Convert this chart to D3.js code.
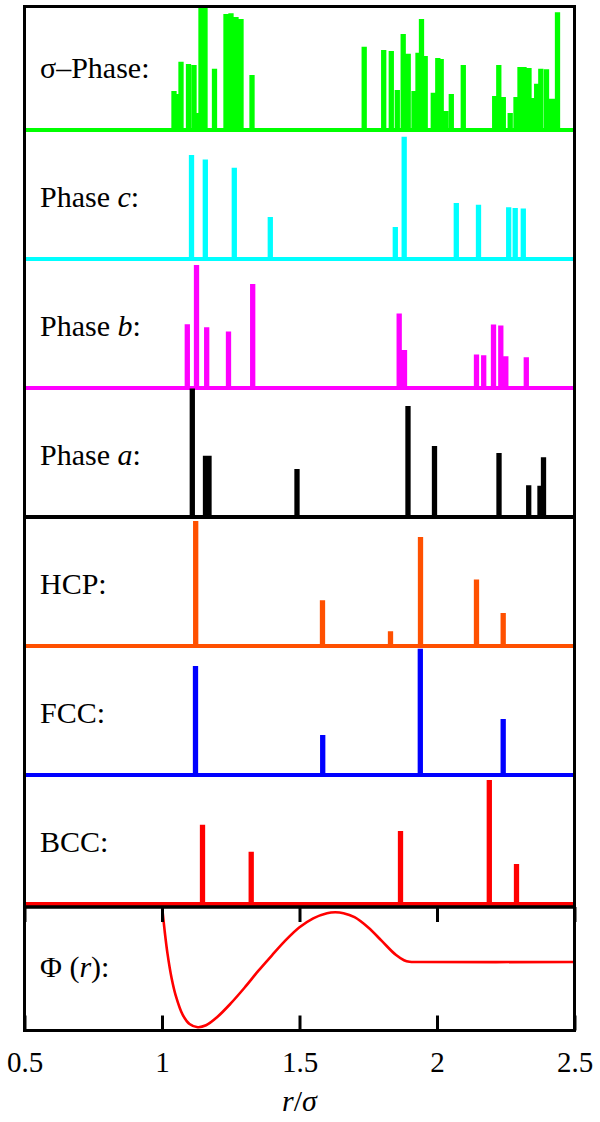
<!DOCTYPE html>
<html>
<head>
<meta charset="utf-8">
<script src="https://cdn.jsdelivr.net/npm/d3@7"></script>
<style>
  body { margin: 0; background: #fff; }
  text { font-family: "Liberation Serif", "DejaVu Serif", serif; fill: #000; }
</style>
</head>
<body>
<svg id="chart" width="600" height="1122"></svg>
<script>
// r/σ tick values shared by every panel
const rTicks = [0.5, 1, 1.5, 2, 2.5];

// σ-phase pair distribution (peak position, relative intensity)
const sigmaR = [1.0436, 1.0545, 1.0691, 1.0964, 1.1164, 1.1273, 1.1418, 1.1564, 1.1909,
  1.2327, 1.2509, 1.2691, 1.2873, 1.3273,
  1.7353, 1.8062, 1.8338, 1.8556, 1.8771, 1.8953, 1.9164, 1.9309, 1.9436, 1.9571,
  1.9865, 2.0029, 2.0153, 2.032, 2.052, 2.0956,
  2.2098, 2.2247, 2.2411, 2.2662, 2.2873, 2.3018, 2.3164, 2.3345, 2.3498, 2.3625,
  2.3775, 2.3982, 2.4091, 2.4255, 2.4382];
const sigmaI = [30, 27.6, 53.7, 52, 51.2, 12.2, 104, 104, 48,
  92.7, 93.2, 90.2, 88.6, 43.1,
  65.9, 63.4, 62.6, 30.9, 76.4, 60.2, 30.1, 61, 88.6, 58.5,
  28.5, 56.9, 56.1, 13.8, 27.6, 51.2,
  26, 51.2, 25.2, 12.2, 25.2, 49.6, 49.6, 48.8, 24.4, 35.8,
  48, 47.7, 23.6, 23.8, 94];

// Phase c
const phaseCR = [1.1073, 1.1575, 1.2629, 1.3938, 1.8484, 1.8807, 2.0702, 2.1509, 2.2607, 2.2844, 2.3138];
const phaseCI = [82.9, 79.1, 72.4, 32.5, 24.4, 97.6, 43.9, 42.3, 40.4, 39.8, 39.3];

// Phase b
const phaseBR = [1.092, 1.1255, 1.1625, 1.2418, 1.3298, 1.8625, 1.8818, 2.1436, 2.1698, 2.2055, 2.232, 2.2502, 2.3247];
const phaseBI = [50.2, 98.2, 47.6, 44.3, 82.8, 58.9, 29.1, 25.6, 25, 50, 49.2, 24.2, 23.2];

// Phase a
const phaseAR = [1.1102, 1.1582, 1.1709, 1.4909, 1.8945, 1.9909, 2.2255, 2.3335, 2.3745, 2.3873];
const phaseAI = [102.7, 48, 48, 37.4, 88.6, 56.1, 50.4, 24.1, 23.6, 46.9];

// HCP
const hcpR = [1.1225, 1.5836, 1.8309, 1.94, 2.1436, 2.2407];
const hcpI = [100, 35.5, 10.3, 87, 52.3, 25.2];

// FCC
const fccR = [1.1218, 1.5844, 1.9393, 2.2407];
const fccI = [87, 30.9, 101, 43.9];

// BCC
const bccR = [1.1473, 1.3244, 1.8673, 2.1902, 2.2891];
const bccI = [62.8, 40.7, 57.7, 99.2, 30.9];

// Pair potential Φ(r)
const phiR = [1.0, 1.01, 1.02, 1.035, 1.05, 1.075, 1.1, 1.13, 1.16, 1.2, 1.25, 1.3, 1.35,
  1.4, 1.45, 1.5, 1.55, 1.6, 1.63, 1.66, 1.7, 1.75, 1.8, 1.85, 1.88, 1.9, 1.94, 2.5];
const phiV = [0.50, 0.27, 0.075, -0.145, -0.30, -0.47, -0.554, -0.582, -0.565, -0.493, -0.37, -0.23, -0.08,
  0.06, 0.195, 0.31, 0.39, 0.436, 0.444, 0.436, 0.40, 0.308, 0.186, 0.064, 0.016, 0.002, 0.0, 0.0];

const panels = [
  { label: [["σ", false], ["–Phase:", false]], color: "#00ff00", r: sigmaR, v: sigmaI },
  { label: [["Phase ", false], ["c", true], [":", false]], color: "#00ffff", r: phaseCR, v: phaseCI },
  { label: [["Phase ", false], ["b", true], [":", false]], color: "#ff00ff", r: phaseBR, v: phaseBI },
  { label: [["Phase ", false], ["a", true], [":", false]], color: "#000000", r: phaseAR, v: phaseAI },
  { label: [["HCP:", false]], color: "#ff5000", r: hcpR, v: hcpI },
  { label: [["FCC:", false]], color: "#0000ff", r: fccR, v: fccI },
  { label: [["BCC:", false]], color: "#ff0000", r: bccR, v: bccI }
];

const plotL = 24.5, plotR = 574.5, plotT = 6.5;
const firstBase = 130, pitch = 129, peakSpan = 123;
const phiTop = 907, phiBottom = 1030.5;
const halfWidth = 0.002;
const labelSize = 30;

const svg = d3.select("#chart");
const x = d3.scaleLinear().domain([0.5, 2.5]).range([plotL, plotR]);

const defs = svg.append("defs");
defs.append("clipPath").attr("id", "specClip")
  .append("rect").attr("x", plotL).attr("y", plotT).attr("width", plotR - plotL).attr("height", phiTop - plotT);
defs.append("clipPath").attr("id", "phiClip")
  .append("rect").attr("x", plotL).attr("y", phiTop).attr("width", plotR - plotL).attr("height", phiBottom - phiTop);

const spec = svg.append("g").attr("clip-path", "url(#specClip)");

panels.forEach((p, k) => {
  const base = firstBase + pitch * k;
  const y = d3.scaleLinear().domain([0, 100]).range([base, base - peakSpan]);
  // stick spectrum: baseline with narrow rectangular peaks
  const order = d3.range(p.r.length).sort((a, b) => p.r[a] - p.r[b]);
  const pts = [[0.5, 0]];
  order.forEach(i => {
    const r = p.r[i], v = p.v[i];
    pts.push([r - halfWidth, 0], [r - halfWidth, v], [r + halfWidth, v], [r + halfWidth, 0]);
  });
  pts.push([2.5, 0]);
  const line = d3.line().x(d => x(d[0])).y(d => y(d[1]));
  spec.append("path")
    .attr("d", line(pts))
    .attr("fill", "none")
    .attr("stroke", p.color)
    .attr("stroke-width", 4.2)
    .attr("stroke-linejoin", "miter");

  const t = svg.append("text")
    .attr("x", 40).attr("y", base - 52)
    .attr("font-size", labelSize);
  p.label.forEach(([s, it]) => {
    t.append("tspan").text(s).attr("font-style", it ? "italic" : "normal");
  });
});

// Φ(r) panel
const yPhi = d3.scaleLinear().domain([-0.6, 0.5]).range([phiBottom - 1.3, phiTop - 1]);
svg.append("g").attr("clip-path", "url(#phiClip)")
  .append("path")
  .attr("d", d3.line().x((d, i) => x(phiR[i])).y((d, i) => yPhi(phiV[i])).curve(d3.curveCatmullRom.alpha(0.5))(phiR))
  .attr("fill", "none")
  .attr("stroke", "#ff0000")
  .attr("stroke-width", 2.6);

const phiLabel = svg.append("text").attr("x", 40).attr("y", 977).attr("font-size", labelSize);
phiLabel.append("tspan").text("Φ (");
phiLabel.append("tspan").text("r").attr("font-style", "italic");
phiLabel.append("tspan").text("):");

// frames
svg.append("rect").attr("x", plotL).attr("y", plotT).attr("width", plotR - plotL).attr("height", phiTop - plotT)
  .attr("fill", "none").attr("stroke", "#000").attr("stroke-width", 3);
svg.append("rect").attr("x", plotL).attr("y", phiTop).attr("width", plotR - plotL).attr("height", phiBottom - phiTop)
  .attr("fill", "none").attr("stroke", "#000").attr("stroke-width", 3);

// ticks on the Φ panel
const axB = svg.append("g").attr("transform", `translate(0,${phiBottom})`)
  .call(d3.axisBottom(x).tickValues(rTicks).tickFormat(d3.format("")).tickSize(-15).tickSizeOuter(0).tickPadding(21));
axB.select(".domain").remove();
axB.selectAll("line").attr("stroke", "#000").attr("stroke-width", 3);
axB.selectAll("text").attr("font-size", 29).attr("font-family", "Liberation Serif, DejaVu Serif, serif").attr("fill", "#000");

const axT = svg.append("g").attr("transform", `translate(0,${phiTop})`)
  .call(d3.axisTop(x).tickValues(rTicks).tickFormat("").tickSize(-15).tickSizeOuter(0));
axT.select(".domain").remove();
axT.selectAll("line").attr("stroke", "#000").attr("stroke-width", 3);

// axis title
const xl = svg.append("text").attr("x", (plotL + plotR) / 2).attr("y", 1111)
  .attr("text-anchor", "middle").attr("font-size", 30);
xl.append("tspan").text("r").attr("font-style", "italic");
xl.append("tspan").text("/");
xl.append("tspan").text("σ").attr("font-style", "italic");
</script>
</body>
</html>
